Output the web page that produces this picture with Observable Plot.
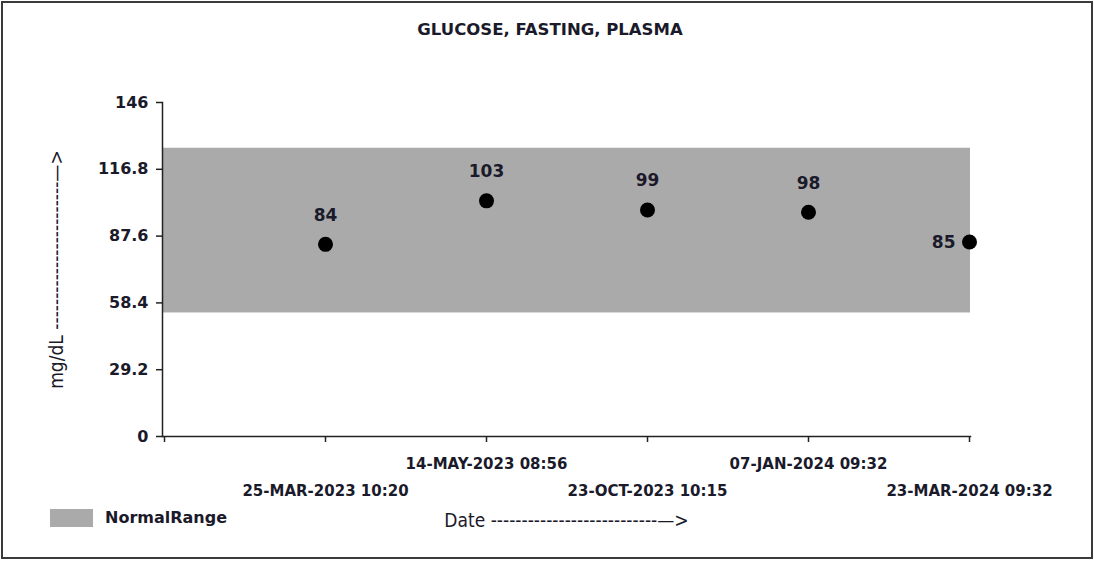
<!DOCTYPE html>
<html>
<head>
<meta charset="utf-8">
<script src="https://cdn.jsdelivr.net/npm/d3@7"></script>
<script src="https://cdn.jsdelivr.net/npm/@observablehq/plot@0.6"></script>
<style>
  html, body { margin: 0; padding: 0; background: #fff; }
  #chart {
    position: relative; margin: 1px; width: 1088px; height: 554px;
    border: 2px solid #3a3a3a; background: #fff; overflow: hidden;
    font-family: "DejaVu Sans", sans-serif;
  }
  #title {
    position: absolute; left: 3px; top: 17px; width: 100%; text-align: center;
    font-weight: bold; font-size: 16.5px; line-height: 20px; color: #1a1a2a;
  }
  #plot { position: absolute; left: 0; top: 0; }
  #legend { position: absolute; left: 47px; top: 506px; display: flex; align-items: center; }
  #legend .sw { width: 43px; height: 18px; background: #aaaaaa; }
  #legend .lab { margin-left: 12px; font-weight: bold; font-size: 16px; line-height: 18px; color: #1a1a2a; }
</style>
</head>
<body>
<div id="chart">
  <div id="title"></div>
  <div id="plot"></div>
  <div id="legend"><div class="sw"></div><div class="lab"></div></div>
</div>
<script>
const title = "GLUCOSE, FASTING, PLASMA";
const categories = ["25-MAR-2023 10:20", "14-MAY-2023 08:56", "23-OCT-2023 10:15", "07-JAN-2024 09:32", "23-MAR-2024 09:32"];
const values = [84, 103, 99, 98, 85];
const yTicks = [0, 29.2, 58.4, 87.6, 116.8, 146];
const normalRange = [54, 126];
const legendLabel = "NormalRange";
const yLabel = "mg/dL ------------------------—>";
const xLabel = "Date ---------------------------—>";
const origin = " ";

document.getElementById("title").textContent = title;
document.querySelector("#legend .lab").textContent = legendLabel;

const data = categories.map((c, i) => ({date: c, value: values[i], i}));
const last = data.length - 1;
const font = "'DejaVu Sans', sans-serif";
const condensed = "'DejaVu Sans Condensed', 'DejaVu Sans', sans-serif";
const ink = "#1a1a2a";

const chart = Plot.plot({
  width: 1088, height: 554,
  marginLeft: 159, marginRight: 121, marginTop: 99, marginBottom: 121,
  style: {fontFamily: font, fontSize: "15px", color: ink, background: "transparent"},
  x: {type: "point", domain: [origin, ...categories], padding: 0, axis: null, label: null},
  y: {domain: [0, yTicks[yTicks.length - 1]], axis: null, label: null},
  marks: [
    Plot.rect([normalRange], {y1: d => d[0], y2: d => d[1], fill: "#aaaaaa", insetLeft: 1}),
    Plot.frame({anchor: "left", stroke: "#222", strokeWidth: 1.5}),
    Plot.frame({anchor: "bottom", stroke: "#222", strokeWidth: 1.5}),
    Plot.axisY({ticks: yTicks, tickSize: 6, tickPadding: 8, tickFormat: d => String(d), label: null, fontWeight: "bold", fontSize: 16, fill: ink, stroke: "#222", strokeWidth: 1.5}),
    Plot.axisX({ticks: [origin, ...categories], tickSize: 6, tickFormat: () => "", label: null, stroke: "#222", strokeWidth: 1.5}),
    Plot.axisX({ticks: categories.filter((_, i) => i % 2 === 1), tickSize: 0, tickPadding: 22, label: null, fontWeight: "bold", fontSize: 15, fill: ink}),
    Plot.axisX({ticks: categories.filter((_, i) => i % 2 === 0), tickSize: 0, tickPadding: 49, label: null, fontWeight: "bold", fontSize: 15, fill: ink}),
    Plot.dot(data, {x: "date", y: "value", r: 7.5, fill: "#000"}),
    Plot.text(data.filter(d => d.i !== last), {x: "date", y: "value", text: "value", dy: -29, fontWeight: "bold", fontSize: 17, fill: ink}),
    Plot.text(data.filter(d => d.i === last), {x: "date", y: "value", text: "value", dx: -14, textAnchor: "end", fontWeight: "bold", fontSize: 17, fill: ink}),
    Plot.text([yLabel], {text: d => d, frameAnchor: "left", textAnchor: "middle", dx: -106, rotate: -90, fontSize: 19, fontFamily: condensed, fill: ink}),
    Plot.text([xLabel], {text: d => d, frameAnchor: "bottom", dy: 90, fontSize: 19, fontFamily: condensed, fill: ink})
  ]
});
document.getElementById("plot").appendChild(chart);
</script>
</body>
</html>
